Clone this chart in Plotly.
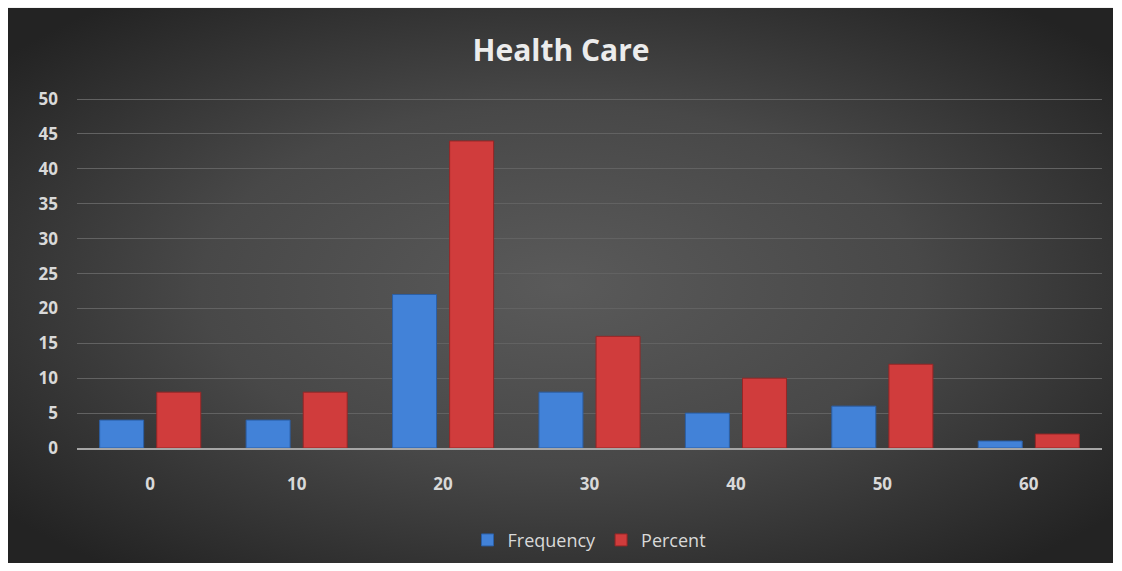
import plotly.graph_objects as go
import urllib.parse

categories = ["0", "10", "20", "30", "40", "50", "60"]
frequency = [4, 4, 22, 8, 5, 6, 1]
percent = [8, 8, 44, 16, 10, 12, 2]
y_ticks = [0, 5, 10, 15, 20, 25, 30, 35, 40, 45, 50]

W, H = 1122, 571
L, R, T, B = 77, 20, 97, 120
pw, ph = W - L - R, H - T - B

svg = ('<svg xmlns="http://www.w3.org/2000/svg" width="1105" height="560" viewBox="0 0 1105 560" preserveAspectRatio="none">'
       '<defs><radialGradient id="g" cx="50%" cy="50%" r="65%" fx="50%" fy="50%">'
       '<stop offset="0%" stop-color="#5a5a5a"/><stop offset="50%" stop-color="#484848"/>'
       '<stop offset="100%" stop-color="#232323"/></radialGradient></defs>'
       '<rect width="1105" height="560" fill="url(#g)"/></svg>')
src = "data:image/svg+xml;charset=utf-8," + urllib.parse.quote(svg)

fig = go.Figure()
fig.add_trace(go.Bar(x=categories, y=frequency, name="Frequency",
                     marker=dict(color="#4282d8", line=dict(color="#2b5fa6", width=1))))
fig.add_trace(go.Bar(x=categories, y=percent, name="Percent",
                     marker=dict(color="#d03c3c", line=dict(color="#962626", width=1))))

tick_font = dict(size=17, color="#d9d9d9", family="Open Sans", weight="bold")

fig.update_layout(
    width=W, height=H,
    margin=dict(l=L, r=R, t=T, b=B),
    paper_bgcolor="white",
    plot_bgcolor="rgba(0,0,0,0)",
    barmode="group", bargap=0.22, bargroupgap=0.23,
    title=dict(text="Health Care", x=0.5, xanchor="center", y=1 - 50 / H, yanchor="middle",
               font=dict(family="Open Sans", size=30, color="#ececec", weight="bold")),
    font=dict(family="Open Sans", color="#d9d9d9"),
    xaxis=dict(showgrid=False, showline=True, linecolor="#a6a6a6", linewidth=2,
               tickfont=tick_font, ticks="", ticklabelstandoff=20),
    yaxis=dict(range=[0, 50.3], tickvals=y_ticks, showgrid=True, gridcolor="#626262", gridwidth=1,
               zeroline=False, ticks="", tickfont=tick_font, ticklabelstandoff=18),
    legend=dict(orientation="h", x=0.5, xanchor="center", y=-(544 - (H - B)) / ph, yanchor="middle",
                font=dict(size=18, color="#d9d9d9", family="Open Sans"), bgcolor="rgba(0,0,0,0)",
                itemwidth=30, traceorder="normal"),
    images=[dict(source=src, xref="paper", yref="paper",
                 x=(8 - L) / pw, y=(H - B - 7) / ph, sizex=1105 / pw, sizey=560 / ph,
                 xanchor="left", yanchor="top", sizing="stretch", layer="below")],
)

fig.write_html("out.html")
